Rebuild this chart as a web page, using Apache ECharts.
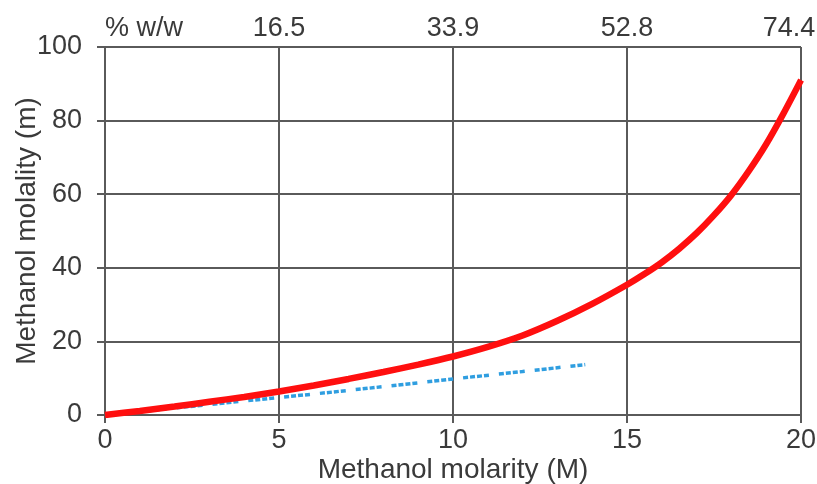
<!DOCTYPE html>
<html>
<head>
<meta charset="utf-8">
<script src="https://cdn.jsdelivr.net/npm/echarts@6/dist/echarts.min.js"></script>
<style>
  html, body { margin: 0; padding: 0; background: #fff; }
  #chart { width: 817px; height: 484px; }
</style>
</head>
<body>
<div id="chart"></div>
<script>
// Methanol molarity (M) on the bottom axis, molality (m) on the left axis
const molarity = [0, 1, 2, 3, 4, 5, 6, 7, 8, 9, 10, 11, 12, 13, 14, 15, 15.5, 16, 16.5, 17, 17.5, 18, 18.5, 19, 19.5, 20];
const molality = [0, 1.1, 2.3, 3.6, 4.9, 6.4, 8.0, 9.8, 11.7, 13.7, 15.9, 18.5, 21.6, 25.6, 30.2, 35.4, 38.3, 41.5, 45.2, 49.4, 54.3, 59.8, 66.3, 73.6, 82, 91];

// dilute-solution approximation (dashed blue), drawn up to 13.8 M
const approxMolarity = [0, 2, 4, 6, 8, 10, 12, 13.8];
const approxMolality = [0, 1.9, 3.8, 5.7, 7.7, 9.8, 11.8, 13.7];

// top axis: mass percent at the molarity grid lines
const topTickValues = [0, 5, 10, 15, 20];
const topTickLabels = ['% w/w', '16.5', '33.9', '52.8', '74.4'];

const FONT = '"Liberation Sans", Arial, sans-serif';
const TEXT = '#3a3a3a';
const GRID = '#5a5a5a';
const TICK_SIZE = 27;
const NAME_SIZE = 28;

const chart = echarts.init(document.getElementById('chart'), null, { renderer: 'canvas' });

chart.setOption({
  animation: false,
  backgroundColor: '#ffffff',
  grid: { left: 105, right: 16, top: 47, bottom: 69, containLabel: false, outerBoundsMode: 'none' },
  xAxis: [
    {
      type: 'value', position: 'bottom', min: 0, max: 20, interval: 5,
      name: 'Methanol molarity (M)', nameLocation: 'middle', nameGap: 41, nameMoveOverlap: false,
      nameTextStyle: { fontFamily: FONT, fontSize: NAME_SIZE, color: TEXT },
      axisLine: { show: true, lineStyle: { color: GRID, width: 2 } },
      axisTick: { show: true, inside: false, length: 8, lineStyle: { color: GRID, width: 2 } },
      axisLabel: { fontFamily: FONT, fontSize: TICK_SIZE, color: TEXT, margin: 12 },
      splitLine: { show: true, lineStyle: { color: GRID, width: 2 } }
    },
    {
      type: 'value', position: 'top', min: 0, max: 20, interval: 5,
      axisLine: { show: false }, axisTick: { show: false }, splitLine: { show: false },
      axisLabel: {
        fontFamily: FONT, fontSize: TICK_SIZE, color: TEXT, margin: 5,
        alignMinLabel: 'left',
        formatter: function (v) {
          const i = topTickValues.indexOf(v);
          if (i < 0) return '';
          if (i === topTickValues.length - 1) return '{last|' + topTickLabels[i] + '}';
          return topTickLabels[i];
        },
        rich: { last: { fontFamily: FONT, fontSize: TICK_SIZE, color: TEXT, padding: [0, 24, 0, 0] } }
      }
    }
  ],
  yAxis: {
    type: 'value', min: 0, max: 100, interval: 20,
    name: 'Methanol molality (m)', nameLocation: 'middle', nameGap: 64, nameRotate: 90, nameMoveOverlap: false,
    nameTextStyle: { fontFamily: FONT, fontSize: NAME_SIZE, color: TEXT },
    axisLine: { show: true, lineStyle: { color: GRID, width: 2 } },
    axisTick: { show: true, inside: false, length: 8, lineStyle: { color: GRID, width: 2 } },
    axisLabel: { fontFamily: FONT, fontSize: TICK_SIZE, color: TEXT, margin: 23 },
    splitLine: { show: true, lineStyle: { color: GRID, width: 2 } }
  },
  series: [
    {
      type: 'line', name: 'approx', xAxisIndex: 0,
      data: approxMolarity.map((x, i) => [x, approxMolality[i]]),
      showSymbol: false, smooth: false,
      lineStyle: { color: '#2f9ee0', width: 3.5, type: [5, 2, 5, 2, 5, 2, 5, 10] },
      z: 2
    },
    {
      type: 'line', name: 'molality', xAxisIndex: 0,
      data: molarity.map((x, i) => [x, molality[i]]),
      showSymbol: false, smooth: 0.25,
      lineStyle: { color: '#ff0f0f', width: 6.5 },
      z: 3
    }
  ]
});
</script>
</body>
</html>
